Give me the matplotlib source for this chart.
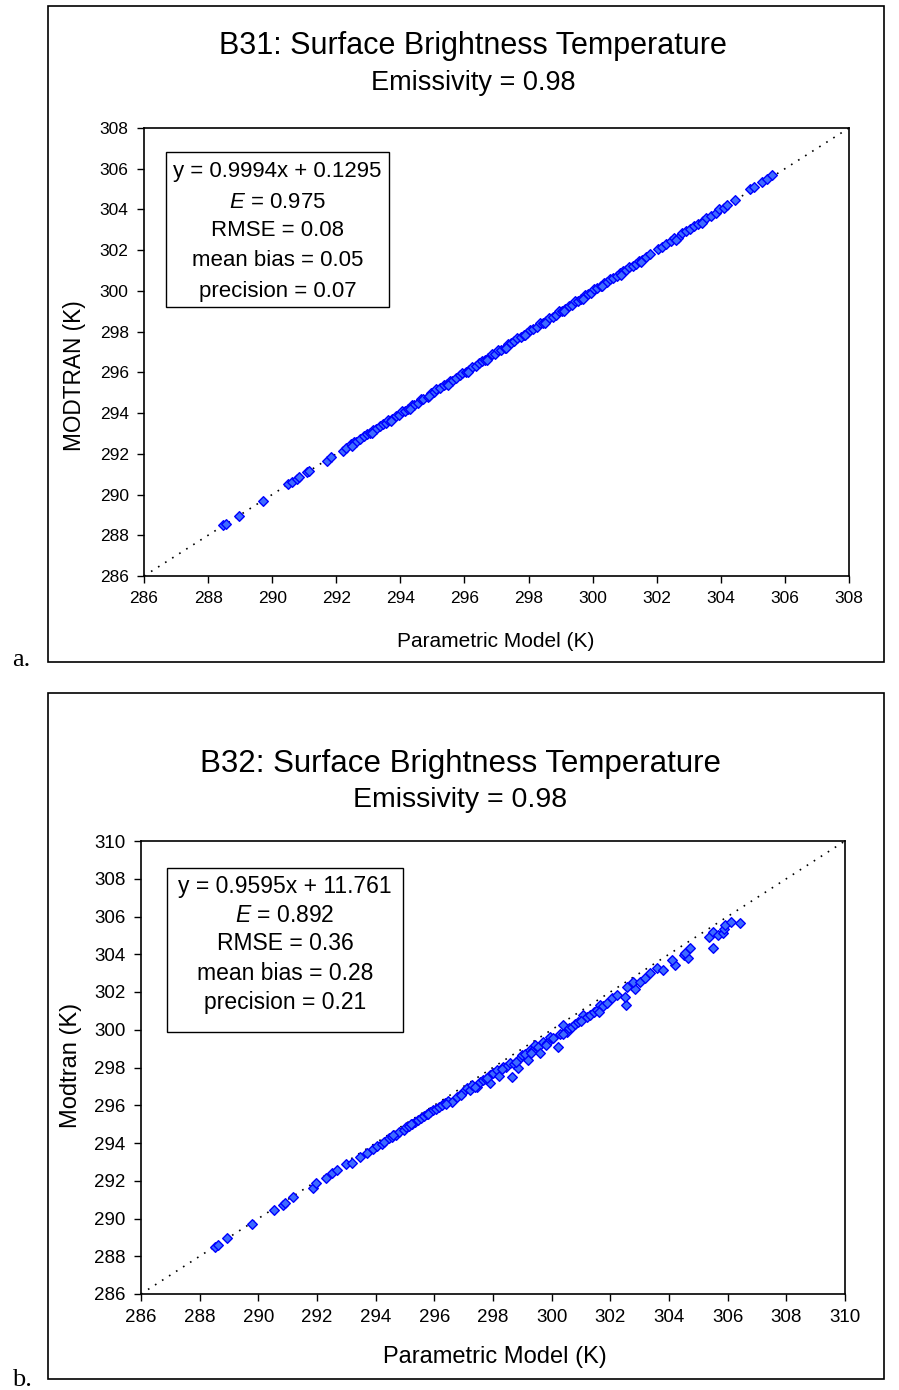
import numpy as np
import matplotlib
matplotlib.use("Agg")
import matplotlib.pyplot as plt
from matplotlib.patches import Rectangle

plt.rcParams['font.family'] = ['Liberation Sans', 'DejaVu Sans']
plt.rcParams['mathtext.fontset'] = 'custom'
plt.rcParams['mathtext.it'] = 'Liberation Sans:italic'
plt.rcParams['mathtext.rm'] = 'Liberation Sans'

# ---- data ----
# panel a: B31
b31_x = [288.45, 288.55, 288.98, 289.70, 290.50, 290.62, 290.78, 290.85, 291.08, 291.15,
         291.70, 291.85, 292.20, 292.30, 292.45, 292.55, 292.62, 292.75, 292.85, 292.95,
         293.05, 293.15, 293.25, 293.35, 293.45, 293.55, 293.62, 293.75, 293.85, 293.95,
         294.05, 294.15, 294.25, 294.35, 294.42, 294.55, 294.65, 294.72, 294.85, 294.95,
         295.05, 295.12, 295.25, 295.35, 295.45, 295.55, 295.62, 295.75, 295.85, 295.92,
         296.05, 296.15, 296.22, 296.35, 296.45, 296.55, 296.65, 296.75, 296.85, 296.95,
         297.05, 297.15, 297.25, 297.35, 297.45, 297.55, 297.65, 297.75, 297.85, 297.95,
         298.05, 298.15, 298.25, 298.35, 298.45, 298.55, 298.65, 298.75, 298.85, 298.95,
         299.05, 299.15, 299.25, 299.35, 299.45, 299.55, 299.65, 299.75, 299.85, 299.95,
         300.05, 300.15, 300.25, 300.35, 300.45, 300.55, 300.65, 300.75, 300.85, 300.95,
         301.05, 301.15, 301.25, 301.35, 301.45, 301.55, 301.65, 301.78, 302.05, 302.15,
         302.30, 302.45, 302.55, 302.65, 302.80, 302.90, 303.05, 303.15, 303.30, 303.45,
         303.55, 303.70, 303.85, 303.95, 304.10, 304.20, 304.45, 304.90, 305.05, 305.30,
         305.45, 305.60,
         292.50, 293.10, 293.70, 294.30, 294.90, 295.50, 296.10, 296.70, 297.30, 297.90,
         298.50, 299.10, 299.70, 300.30, 300.90, 301.50, 302.60, 303.40]
b31_y = [288.48, 288.55, 288.95, 289.68, 290.52, 290.60, 290.76, 290.84, 291.10, 291.14,
         291.66, 291.84, 292.16, 292.28, 292.50, 292.58, 292.60, 292.72, 292.86, 292.98,
         293.02, 293.18, 293.22, 293.38, 293.44, 293.52, 293.66, 293.72, 293.88, 293.92,
         294.10, 294.12, 294.22, 294.38, 294.40, 294.52, 294.68, 294.70, 294.80, 294.98,
         295.04, 295.16, 295.22, 295.36, 295.42, 295.58, 295.60, 295.72, 295.88, 295.96,
         296.02, 296.12, 296.26, 296.32, 296.44, 296.58, 296.62, 296.72, 296.88, 296.92,
         297.08, 297.12, 297.22, 297.38, 297.46, 297.52, 297.70, 297.76, 297.82, 297.92,
         298.10, 298.12, 298.22, 298.40, 298.42, 298.50, 298.68, 298.72, 298.82, 299.00,
         299.02, 299.12, 299.28, 299.30, 299.48, 299.52, 299.62, 299.80, 299.84, 299.92,
         300.08, 300.12, 300.22, 300.38, 300.42, 300.60, 300.64, 300.72, 300.88, 300.96,
         301.02, 301.18, 301.22, 301.34, 301.48, 301.52, 301.66, 301.80, 302.08, 302.16,
         302.28, 302.46, 302.58, 302.62, 302.82, 302.94, 303.04, 303.18, 303.30, 303.44,
         303.58, 303.70, 303.84, 304.00, 304.08, 304.24, 304.44, 305.00, 305.10, 305.34,
         305.50, 305.70,
         292.40, 293.00, 293.60, 294.20, 294.82, 295.40, 296.00, 296.60, 297.20, 297.82,
         298.40, 299.00, 299.60, 300.22, 300.80, 301.40, 302.50, 303.32]

# panel b: B32
b32_x = [288.52, 288.63, 288.93, 289.78, 290.53, 290.84, 290.91, 291.18, 291.86, 291.97,
         292.31, 292.51, 292.68, 292.99, 293.19, 293.47, 293.71, 293.90, 294.05, 294.20,
         294.30, 294.45, 294.55, 294.70, 294.80, 294.95, 295.05, 295.15, 295.25, 295.35,
         295.45, 295.55, 295.65, 295.75, 295.85, 295.95, 296.05, 296.15, 296.25, 296.35,
         296.45, 296.60, 296.77, 296.98, 297.10, 297.22, 297.30, 297.46, 297.55, 297.66,
         297.75, 297.90, 297.90, 298.00, 298.14, 298.20, 298.34, 298.45, 298.58, 298.65,
         298.70, 298.85, 298.90, 298.99, 299.10, 299.19, 299.26, 299.35, 299.43, 299.55,
         299.60, 299.70, 299.84, 299.95, 300.05, 300.22, 300.30, 300.39, 300.52, 300.60,
         300.70, 300.80, 300.90, 301.07, 301.20, 301.31, 301.45, 301.55, 301.65, 301.75,
         301.89, 302.06, 302.23, 302.54, 302.50, 302.57, 302.84, 302.77, 303.00, 303.18,
         303.35, 303.60, 303.80, 304.20, 304.10, 304.50, 304.65, 304.55, 304.72, 305.50,
         305.37, 305.50, 305.67, 305.84, 305.88, 305.90, 306.12, 306.42,
         294.60, 295.20, 295.80, 296.40, 296.90, 297.40, 297.80, 298.30, 298.80, 299.30,
         299.80, 300.40, 301.00, 301.60]
b32_y = [288.49, 288.60, 288.97, 289.71, 290.45, 290.72, 290.82, 291.14, 291.62, 291.88,
         292.15, 292.41, 292.57, 292.89, 292.94, 293.26, 293.47, 293.70, 293.82, 293.96,
         294.05, 294.24, 294.30, 294.44, 294.58, 294.70, 294.84, 294.90, 295.02, 295.12,
         295.24, 295.30, 295.44, 295.52, 295.62, 295.74, 295.82, 295.90, 296.02, 296.10,
         296.20, 296.17, 296.44, 296.70, 296.90, 296.81, 297.05, 296.97, 297.25, 297.34,
         297.40, 297.60, 297.18, 297.70, 297.87, 297.55, 298.03, 298.05, 298.24, 297.50,
         298.20, 297.97, 298.45, 298.66, 298.70, 298.40, 298.93, 298.95, 299.19, 299.10,
         298.77, 299.35, 299.30, 299.62, 299.55, 299.09, 299.80, 300.25, 299.88, 300.10,
         300.15, 300.30, 300.41, 300.78, 300.65, 300.78, 300.95, 301.05, 301.31, 301.25,
         301.42, 301.68, 301.84, 301.31, 301.74, 302.27, 302.16, 302.53, 302.53, 302.74,
         303.00, 303.27, 303.17, 303.43, 303.70, 303.96, 303.80, 304.07, 304.33, 304.33,
         304.90, 305.18, 305.02, 305.13, 305.34, 305.55, 305.70, 305.66,
         294.42, 295.00, 295.55, 296.08, 296.55, 296.95, 297.42, 297.90, 298.30, 298.75,
         299.20, 299.80, 300.45, 300.95]

panels = [
    dict(x=b31_x, y=b31_y, lim=(286, 308),
         title="B31: Surface Brightness Temperature", sub="Emissivity = 0.98",
         ylabel="MODTRAN (K)",
         stats=["y = 0.9994x + 0.1295", r"$\mathit{E}$ = 0.975", "RMSE = 0.08",
                "mean bias = 0.05", "precision = 0.07"]),
    dict(x=b32_x, y=b32_y, lim=(286, 310),
         title="B32: Surface Brightness Temperature", sub="Emissivity = 0.98",
         ylabel="Modtran (K)",
         stats=["y = 0.9595x + 11.761", r"$\mathit{E}$ = 0.892", "RMSE = 0.36",
                "mean bias = 0.28", "precision = 0.21"]),
]

W, H = 899, 1390
fig = plt.figure(figsize=(W / 100, H / 100), dpi=100)

def fx(px):
    return px / W

def fy(py):
    return 1 - py / H

# layout in pixels (left, right, top, bottom) for each panel
layout = [
    dict(frame=(48, 884, 6, 662), axes=(144, 849, 128, 576), title_x=473, title_y=46, sub_y=83,
         title_fs=22, sub_fs=19.5, tick_fs=12.5, lab_fs=15, ylab_fs=16.3,
         xlab=(496, 642), ylab=(75, 376),
         box=(166, 389, 152, 307), line_y=[172, 202, 231, 261, 291], stat_fs=16,
         tag="a.", tag_y=660),
    dict(frame=(48, 884, 693, 1379), axes=(141, 845, 841, 1294), title_x=460, title_y=764, sub_y=800,
         title_fs=22.5, sub_fs=20.5, tick_fs=13.5, lab_fs=17, ylab_fs=17,
         xlab=(495, 1357), ylab=(71, 1065),
         box=(167, 403, 868, 1032), line_y=[886, 915, 944, 973, 1003], stat_fs=16.5,
         tag="b.", tag_y=1380),
]

for p, L in zip(panels, layout):
    l, r, t, b = L['frame']
    fig.add_artist(Rectangle((fx(l), fy(b)), fx(r) - fx(l), fy(t) - fy(b),
                             transform=fig.transFigure, fill=False, ec='black', lw=1.2))
    al, ar, at, ab = L['axes']
    ax = fig.add_axes([fx(al), fy(ab), fx(ar) - fx(al), fy(at) - fy(ab)])
    lo, hi = p['lim']
    ax.plot([lo, hi], [lo, hi], color='black', ls=(0, (1, 4)), lw=1.2, zorder=1)
    ax.scatter(p['x'], p['y'], marker='D', s=24, facecolor='#3d6bff', edgecolor='#0000ff',
               linewidths=1.0, zorder=2)
    ax.set_xlim(lo, hi)
    ax.set_ylim(lo, hi)
    ticks = np.arange(lo, hi + 1, 2)
    ax.set_xticks(ticks)
    ax.set_yticks(ticks)
    ax.tick_params(direction='out', length=5, width=1, labelsize=L['tick_fs'], pad=6,
                   top=False, right=False)
    for s in ax.spines.values():
        s.set_linewidth(1.2)

    cx = L['title_x']
    fig.text(fx(cx), fy(L['title_y']), p['title'], ha='center', va='center', fontsize=L['title_fs'])
    fig.text(fx(cx), fy(L['sub_y']), p['sub'], ha='center', va='center', fontsize=L['sub_fs'])
    fig.text(fx(L['xlab'][0]), fy(L['xlab'][1]), "Parametric Model (K)", ha='center', va='center',
             fontsize=L['lab_fs'])
    fig.text(fx(L['ylab'][0]), fy(L['ylab'][1]), p['ylabel'], ha='center', va='center',
             rotation=90, fontsize=L['ylab_fs'])

    bl, br, bt, bb = L['box']
    fig.add_artist(Rectangle((fx(bl), fy(bb)), fx(br) - fx(bl), fy(bt) - fy(bb),
                             transform=fig.transFigure, fill=True, fc='white', ec='black', lw=1.0,
                             zorder=5))
    for s, ly in zip(p['stats'], L['line_y']):
        fig.text(fx((bl + br) / 2), fy(ly), s, ha='center', va='center', fontsize=L['stat_fs'],
                 zorder=6)

    fig.text(fx(12), fy(L['tag_y']), L['tag'], ha='left', va='center', fontsize=19,
             family='Liberation Serif')

fig.savefig("out.png", dpi=100)
